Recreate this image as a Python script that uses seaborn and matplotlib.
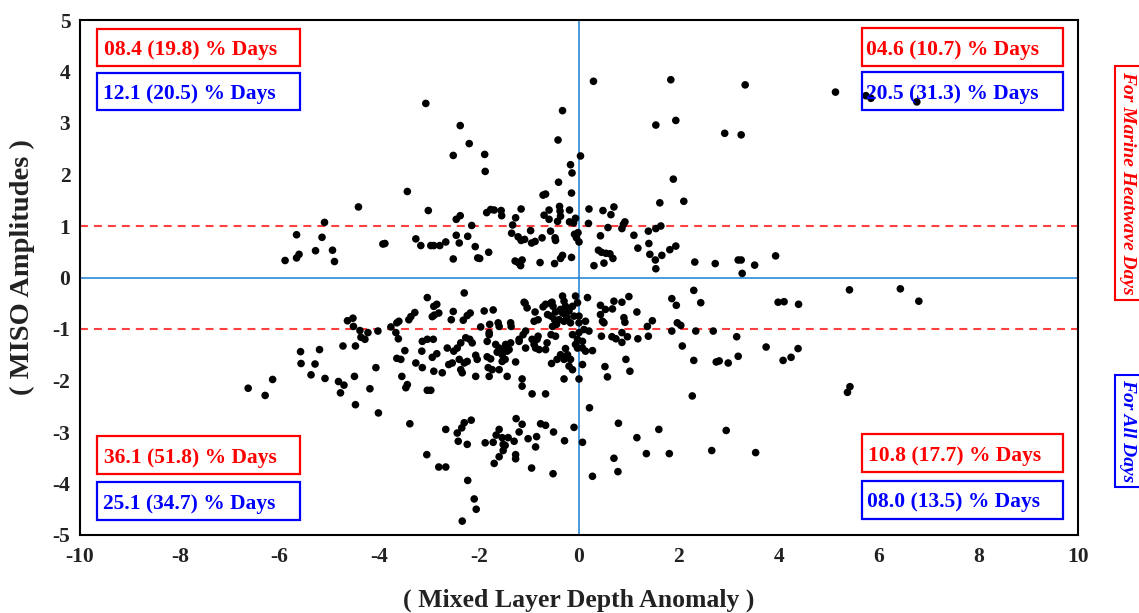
import numpy as np
import pandas as pd
import matplotlib
matplotlib.use("Agg")
import matplotlib.pyplot as plt
from matplotlib.patches import Rectangle
import seaborn as sns

# ---------------- data ----------------
x_upper = [-3.07, -2.38, -2.20, -2.52, -3.44, -4.42, -3.02, -2.38, -2.46, -5.10, -2.15, -5.66, -5.15,
           -2.46, -2.23, -3.27, -2.67, -2.40, -3.17, -2.97, -2.91, -2.79, -3.93, -3.89, -2.08, -5.28,
           -5.61, -5.66, -4.94, -4.90, -5.89, -2.52, -2.03,
           0.29, 1.84, -0.33, 1.54, 1.94, -0.42, -1.89, -1.88, 0.03, -0.17, -0.14, -0.41, 1.89, -0.15,
           -0.72, -0.67, 1.62, 2.10, -1.85, -1.77, -1.70, -1.56, -1.55, -1.27, -1.16, -0.70, -0.60, -0.60,
           -0.39, -0.38, -0.37, -0.43, -0.19, -0.19, -0.11, -0.07, -1.33, -1.35, -1.22, -1.16, -1.09,
           -0.97, -0.95, -0.88, -0.74, -0.57, -0.48, -0.47, -0.09, -0.05, 0.00, -0.02, 0.20, 0.19, 0.48,
           0.64, 0.70, 0.58, 0.43, 0.86, 0.89, 0.92, 1.10, 1.18, 1.39, 1.40, 1.42, 1.54, 1.64, 1.53, 1.54,
           1.66, 1.82, 1.94, 0.39, 0.45, 0.54, 0.62, 0.68, 0.30, 0.50, -1.99, -1.81, -1.28, -1.22, -1.17,
           -1.14, -0.78, -0.49, -0.37, -0.33, -0.15, 2.32, 2.73,
           3.33, 2.92, 3.25, 5.14, 5.75, 5.85, 6.77, 3.19, 3.25, 3.27, 3.52, 3.94]
y_upper = [3.38, 2.95, 2.60, 2.37, 1.67, 1.37, 1.30, 1.20, 1.13, 1.07, 1.01, 0.83, 0.78,
           0.82, 0.80, 0.75, 0.69, 0.67, 0.62, 0.62, 0.62, 0.62, 0.65, 0.66, 0.60, 0.52,
           0.45, 0.38, 0.53, 0.31, 0.33, 0.36, 0.38,
           3.81, 3.84, 3.24, 2.96, 3.05, 2.67, 2.39, 2.06, 2.36, 2.19, 2.03, 1.85, 1.91, 1.64,
           1.60, 1.62, 1.45, 1.48, 1.26, 1.32, 1.31, 1.30, 1.20, 1.16, 1.33, 1.21, 1.31, 1.13,
           1.38, 1.29, 1.19, 1.09, 1.31, 1.08, 1.06, 1.15, 1.02, 0.86, 0.79, 0.72, 0.74,
           0.91, 0.67, 0.70, 0.77, 0.90, 0.77, 0.72, 0.84, 0.77, 0.69, 0.87, 1.33, 1.05, 1.30,
           1.22, 1.37, 0.97, 0.81, 0.95, 1.03, 1.08, 0.82, 0.57, 0.90, 0.66, 0.45, 0.95, 1.00, 0.34, 0.17,
           0.43, 0.54, 0.61, 0.53, 0.49, 0.47, 0.46, 0.37, 0.23, 0.28, 0.37, 0.49, 0.32, 0.29, 0.23,
           0.34, 0.29, 0.27, 0.37, 0.43, 0.39, 0.30, 0.27,
           3.74, 2.80, 2.77, 3.60, 3.53, 3.48, 3.41, 0.34, 0.34, 0.08, 0.24, 0.42]

x_middle = [-4.64, -4.53, -4.52, -4.39, -4.37, -4.29, -4.23, -4.03, -3.77, -3.65, -3.67, -3.65, -3.62,
            -5.58, -5.20, -4.73, -4.48, -5.57, -5.29, -5.37, -5.09, -4.82, -4.71, -4.78, -4.50, -4.07,
            -4.19, -6.63, -6.29, -6.14,
            -3.04, -2.30, -2.91, -2.85, -2.90, -2.94, -2.81, -3.29, -3.37, -3.41, -3.61, -2.52, -2.56,
            -2.18, -2.24, -2.32, -1.90, -1.72, -1.97, -1.79, -1.80, -1.62, -1.60, -1.37, -1.36, -1.10,
            -1.08, -1.04, -0.88, -0.82, -0.90, -0.72, -0.67, -0.57, -0.54, -0.52, -0.47, -0.56, -0.49,
            -0.45, -0.53, -0.63, -3.14, -3.04, -2.92, -3.15, -3.49, -3.57, -2.94, -2.85, -2.64, -2.51,
            -2.44, -2.37, -2.27, -2.19, -2.14, -1.80, -1.84, -1.67, -1.60, -1.54, -1.47, -1.40, -1.64,
            -1.54, -1.44, -1.84, -1.77, -1.82, -1.74, -1.60, -1.54, -1.48, -1.37, -1.20, -1.12, -1.07,
            -2.04, -2.07, -2.24, -2.30, -2.40, -2.54, -2.61, -2.74, -2.91, -3.14, -3.27, -3.55, -3.44,
            -3.47, -2.37, -2.34, -2.07, -1.80, -1.44, -1.27, -1.14, -1.14, -0.94, -0.67, -0.55, -0.44,
            -3.04, -2.97, -0.84, -0.90, -0.87, -0.80, -0.67, -0.64, -0.82, -0.94, -1.07, -1.20, -0.56,
            -0.47,
            -0.33, -0.30, -0.27, -0.37, -0.33, -0.27, -0.24, -0.30, -0.40, -0.20, -0.13, -0.07, -0.03,
            -0.10, -0.17, 0.00, 0.00, 0.17, 0.43, 0.53, 0.67, 0.43, 0.47, 0.50, 0.70, 0.86, 1.00, 1.16,
            0.90, 0.92, 1.47, 1.37, 0.13, 0.10, 0.00, 0.20, -0.13, -0.03, 0.07, -0.07, 0.45, 0.66, 0.74,
            0.86, 0.86, 0.97, 1.18, 1.39, -0.27, -0.37, -0.30, -0.23, -0.17, -0.20, -0.13, -0.03, 0.07,
            0.13, 0.27, 0.07, 0.00, -0.30, 0.52, 0.57, 0.94, 1.02, 1.86, 1.95, 1.97, 2.04, 1.86, 2.07,
            2.30, 2.44, 2.34, 2.69, 2.30, 2.75, 2.27,
            2.81, 2.99, 3.19, 3.16, 3.75, 4.09, 4.25, 4.39, 3.99, 4.11, 4.40, 5.42, 6.44, 6.81, 5.38, 5.43]
y_middle = [-0.84, -0.79, -0.95, -1.03, -1.16, -1.20, -1.07, -1.04, -0.96, -0.88, -1.07, -1.57, -1.19,
            -1.44, -1.40, -1.33, -1.33, -1.67, -1.68, -1.89, -1.96, -2.02, -2.09, -2.24, -1.92, -1.75,
            -2.16, -2.15, -2.29, -1.98,
            -0.39, -0.30, -0.56, -0.52, -0.73, -0.76, -0.69, -0.68, -0.76, -0.82, -0.85, -0.66, -0.82,
            -0.69, -0.74, -0.83, -0.65, -0.63, -0.96, -0.91, -1.07, -0.88, -0.95, -0.88, -0.95, -0.48,
            -0.50, -0.59, -0.67, -0.82, -0.85, -0.57, -0.52, -0.50, -0.48, -0.56, -0.67, -0.75, -0.82,
            -0.91, -0.95, -0.72, -1.24, -1.20, -1.20, -1.43, -1.42, -1.59, -1.55, -1.48, -1.37, -1.43,
            -1.37, -1.27, -1.17, -1.20, -1.27, -1.11, -1.24, -1.30, -1.37, -1.40, -1.30, -1.40, -1.45,
            -1.50, -1.43, -1.54, -1.58, -1.75, -1.79, -1.79, -1.63, -1.59, -1.27, -1.20, -1.11, -1.04,
            -1.59, -1.51, -1.63, -1.66, -1.59, -1.66, -1.69, -1.85, -1.82, -1.75, -1.66, -1.92, -2.08,
            -2.14, -1.79, -1.85, -1.92, -1.92, -1.92, -1.64, -1.97, -2.11, -2.26, -2.26, -1.67, -1.59,
            -2.19, -2.19, -1.20, -1.30, -1.37, -1.40, -1.40, -1.27, -1.14, -1.20, -1.37, -1.24, -1.11,
            -1.14,
            -0.36, -0.46, -0.56, -0.62, -0.69, -0.72, -0.78, -0.85, -0.82, -0.65, -0.56, -0.36, -0.49,
            -0.75, -0.88, -0.75, -0.88, -0.39, -0.54, -0.62, -0.61, -0.72, -0.85, -0.88, -0.46, -0.48, -0.37, -0.67,
            -0.78, -0.87, -0.84, -0.95, -0.85, -1.01, -1.07, -1.04, -1.11, -1.20, -1.24, -1.30, -1.14, -1.15, -1.19,
            -1.07, -1.26, -1.15, -1.19, -1.14, -1.38, -1.50, -1.59, -1.50, -1.59, -1.72, -1.79, -1.37, -1.37,
            -1.43, -1.42, -1.69, -1.97, -1.97, -1.73, -1.93, -1.59, -1.82, -0.41, -0.54, -0.88, -0.93, -1.04, -1.33,
            -0.25, -0.49, -1.04, -1.04, -1.61, -1.64, -2.30,
            -1.62, -1.66, -1.53, -1.15, -1.35, -1.61, -1.55, -1.38, -0.48, -0.47, -0.52, -0.24, -0.22, -0.46, -2.23, -2.12]

x_lower = [-4.48, -4.02, -3.39, -2.67, -2.44, -2.35, -2.30, -2.16, -2.42, -2.24, -3.05, -2.81, -2.67,
           -2.23, -2.10, -2.06, -2.34, 0.21, -1.26, -1.14, -1.60, -1.66, -1.20, -0.77, -0.67, -0.51,
           -0.10, -1.02, -0.85, -0.29, 0.07, -1.88, -1.72, -1.54, -1.42, -1.30, -1.52, -1.48, -1.52,
           -1.27, -1.27, -1.60, -1.70, -0.95, -0.52, -0.87, 0.27, 0.79, 1.60, 1.16, 0.70, 1.35, 1.81,
           2.66, 0.78, 2.95, 3.54]
y_lower = [-2.47, -2.63, -2.84, -2.95, -3.02, -2.92, -2.82, -2.77, -3.18, -3.24, -3.44, -3.68, -3.68,
           -3.94, -4.30, -4.50, -4.73, -2.53, -2.74, -2.85, -2.95, -3.06, -3.00, -2.84, -2.87, -3.00,
           -2.91, -3.13, -3.09, -3.17, -3.20, -3.21, -3.20, -3.11, -3.11, -3.18, -3.24, -3.26, -3.36,
           -3.44, -3.52, -3.48, -3.61, -3.70, -3.81, -3.29, -3.86, -2.83, -2.95, -3.11, -3.51, -3.42, -3.42,
           -3.36, -3.77, -2.97, -3.40]

# quadrant statistics (text in the boxes)
quad_mhw = ["08.4 (19.8) % Days", "04.6 (10.7) % Days", "36.1 (51.8) % Days", "10.8 (17.7) % Days"]
quad_all = ["12.1 (20.5) % Days", "20.5 (31.3) % Days", "25.1 (34.7) % Days", "08.0 (13.5) % Days"]

x_ticks = [-10, -8, -6, -4, -2, 0, 2, 4, 6, 8, 10]
y_ticks = [-5, -4, -3, -2, -1, 0, 1, 2, 3, 4, 5]

df = pd.DataFrame({
    "mld": x_upper + x_middle + x_lower,
    "miso": y_upper + y_middle + y_lower,
})

# ---------------- figure ----------------
W, H = 1139, 613
sns.set_style("white")
plt.rcParams["font.family"] = ["Liberation Serif", "DejaVu Serif"]
plt.rcParams["font.weight"] = "bold"

fig = plt.figure(figsize=(W / 100, H / 100), dpi=100)
ax_l, ax_r, ax_t, ax_b = 80, 1078, 20, 535
ax = fig.add_axes([ax_l / W, 1 - ax_b / H, (ax_r - ax_l) / W, (ax_b - ax_t) / H])

ax.axhline(0, color="#1a7fd6", lw=1.1, zorder=1)
ax.axvline(0, color="#1a7fd6", lw=1.1, zorder=1)
for yy in (1, -1):
    ax.axhline(yy, color="#ff4040", lw=1.5, dashes=(3.8, 2.9), zorder=1)

sns.scatterplot(data=df, x="mld", y="miso", ax=ax, color="black", s=30,
                linewidth=0, edgecolor="none", zorder=3, legend=False)

ax.set_xlim(-10, 10)
ax.set_ylim(-5, 5)
ax.set_xticks(x_ticks)
ax.set_yticks(y_ticks)
ax.set_xticklabels([str(t) for t in x_ticks])
ax.set_yticklabels([str(t) for t in y_ticks])
ax.tick_params(axis="both", direction="in", length=6, width=1, color="#888888",
               labelsize=15.5, labelcolor="#222222", top=False, right=False)
ax.tick_params(axis="y", pad=7)
ax.tick_params(axis="x", pad=9)
for lab in ax.get_xticklabels() + ax.get_yticklabels():
    lab.set_fontweight("bold")
for sp in ax.spines.values():
    sp.set_color("black")
    sp.set_linewidth(1.5)

ax.set_xlabel("( Mixed Layer Depth Anomaly )", fontsize=18.5, fontweight="bold",
              color="#222222", labelpad=15)
ax.set_ylabel("( MISO Amplitudes )", fontsize=20.5, fontweight="bold", color="#222222")
ax.yaxis.set_label_coords(-0.045, 0.52)

# ---------------- quadrant boxes ----------------
axw, axh = ax_r - ax_l, ax_b - ax_t

def pbox(x0, x1, y0, y1, text, color, pad):
    ax.add_patch(Rectangle(((x0 - ax_l) / axw, (ax_b - y1) / axh), (x1 - x0) / axw, (y1 - y0) / axh,
                           transform=ax.transAxes, fill=False, edgecolor=color, lw=1.6, zorder=5,
                           clip_on=False))
    ax.text((x0 + pad - ax_l) / axw, (ax_b - (y0 + y1) / 2) / axh, text, transform=ax.transAxes,
            ha="left", va="center_baseline", color=color, fontsize=15.5, fontweight="bold", zorder=6)

red, blue = "#ff0000", "#0000ff"
pbox(97, 300, 29, 66, quad_mhw[0], red, 7)
pbox(97, 300, 73, 110, quad_all[0], blue, 6)
pbox(862, 1063, 28, 66, quad_mhw[1], red, 4)
pbox(862, 1063, 72, 110, quad_all[1], blue, 4)
pbox(97, 300, 436, 474, quad_mhw[2], red, 7)
pbox(97, 300, 482, 520, quad_all[2], blue, 6)
pbox(862, 1063, 434, 472, quad_mhw[3], red, 6)
pbox(862, 1063, 481, 519, quad_all[3], blue, 5)

# ---------------- right-side legends ----------------
fig.text(1128 / W, 1 - 183 / H, "For Marine Heatwave Days", rotation=270, ha="center", va="center",
         color=red, fontsize=14, fontweight="bold", fontstyle="italic",
         bbox=dict(boxstyle="square,pad=0.25", fc="white", ec=red, lw=1.5))
fig.text(1128 / W, 1 - 431 / H, "For All Days", rotation=270, ha="center", va="center",
         color=blue, fontsize=14, fontweight="bold", fontstyle="italic",
         bbox=dict(boxstyle="square,pad=0.25", fc="white", ec=blue, lw=1.5))

fig.savefig("out.png", dpi=100)
